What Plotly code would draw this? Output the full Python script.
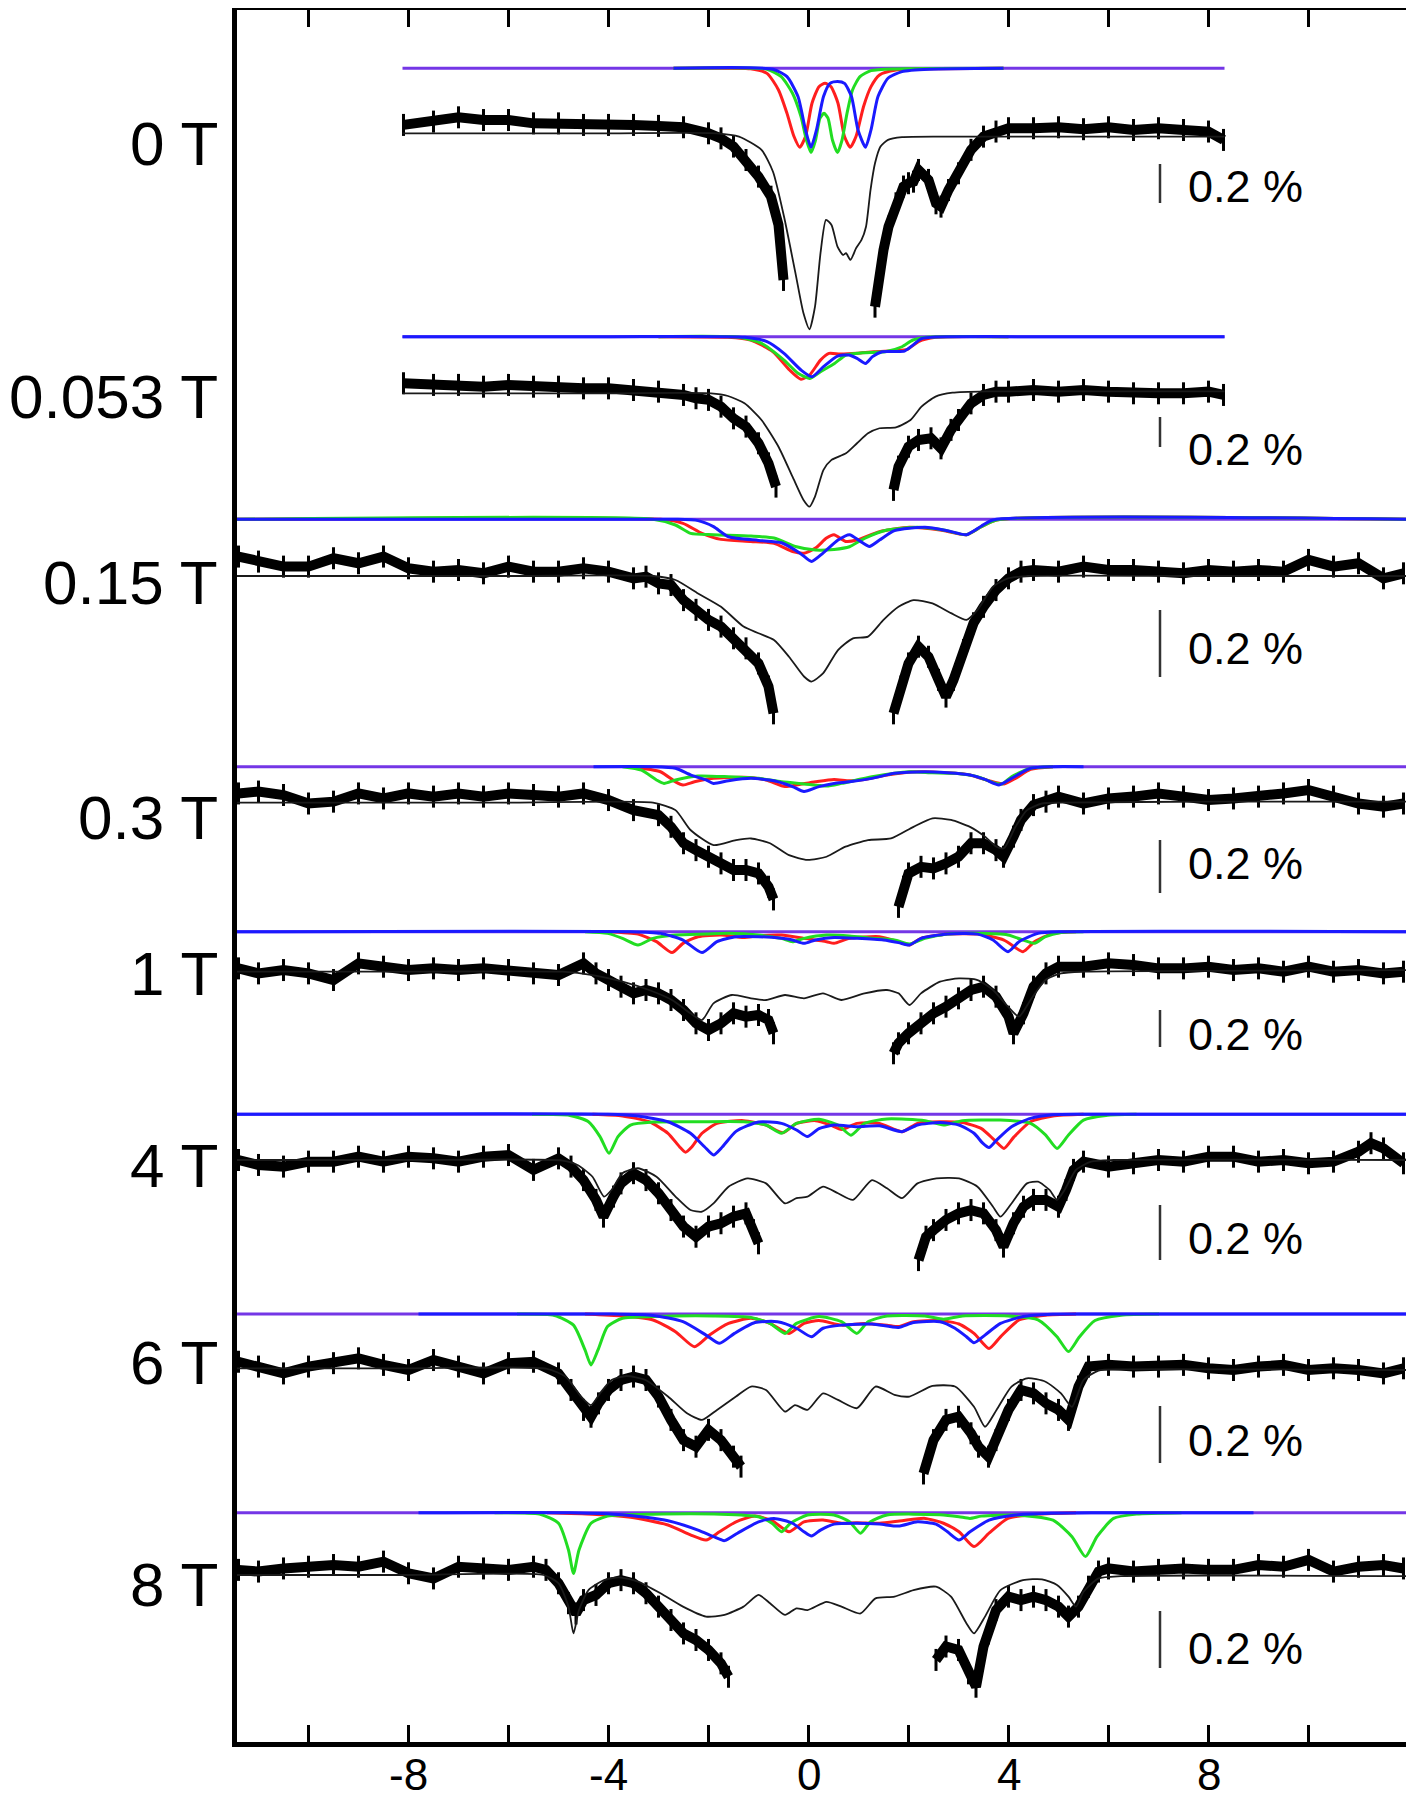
import plotly.graph_objects as go

# ---------------- axis / tick data ----------------
X_MIN, X_MAX = -11.43, 11.99
TICK_VALS = [-10, -8, -6, -4, -2, 0, 2, 4, 6, 8, 10]
LABELED_TICKS = [-8, -4, 0, 4, 8]
LABELED_TEXT = ["-8", "-4", "0", "4", "8"]
FIELD_LABELS = ["0 T", "0.053 T", "0.15 T", "0.3 T", "1 T", "4 T", "6 T", "8 T"]
SCALE_BAR_PCT = 0.2
SCALE_BAR_TEXT = "0.2 %"

# ---------------- 0 T ----------------
v_0T = [-8.1, -7.5, -7.0, -6.5, -6.0, -5.5, -5.0, -4.5, -4.0, -3.5, -3.0, -2.5, -2.0, -1.75, -1.5, -1.25, -1.0, -0.75, -0.6, -0.5,
        0.4,
        1.33, 1.4, 1.5, 1.6, 1.75, 1.9, 2.0, 2.1, 2.2, 2.4, 2.55, 2.65, 2.8, 3.0, 3.25, 3.5, 3.75, 4.0, 4.5, 5.0, 5.5, 6.0, 6.5, 7.0, 7.5, 8.0, 8.3]
d_0T = [0.043, 0.060, 0.082, 0.068, 0.068, 0.051, 0.051, 0.043, 0.043, 0.043, 0.038, 0.031, 0.0, -0.026, -0.068, -0.137, -0.222, -0.325, -0.470, -0.752,
        None,
        -0.889, -0.752, -0.598, -0.479, -0.359, -0.273, -0.256, -0.248, -0.188, -0.239, -0.359, -0.376, -0.291, -0.205, -0.085, -0.017, 0.009, 0.026, 0.026, 0.031, 0.021, 0.031, 0.017, 0.026, 0.017, 0.009, -0.034]
fit_v_0T = [-8.12, -4.0, -1.84, -1.39, -0.94, -0.71, -0.49, -0.26, -0.10, 0.02, 0.13, 0.24, 0.35, 0.46, 0.58, 0.69, 0.75, 0.84, 0.95, 1.06, 1.15, 1.24, 1.33, 1.44, 1.59, 1.87, 2.65, 5.0, 8.32]
fit_0T = [0, 0, 0, -0.017, -0.085, -0.197, -0.427, -0.718, -0.923, -1.005, -0.889, -0.615, -0.444, -0.470, -0.581, -0.624, -0.615, -0.649, -0.590, -0.547, -0.479, -0.291, -0.154, -0.068, -0.034, -0.020, -0.017, -0.017, -0.017]
red_v_0T = [-2.7, -1.16, -0.83, -0.60, -0.43, -0.29, -0.175, -0.06, 0.07, 0.21, 0.33, 0.45, 0.59, 0.72, 0.835, 0.95, 1.10, 1.25, 1.42, 1.75, 2.65, 3.9]
red_0T = [0, -0.003, -0.026, -0.111, -0.231, -0.350, -0.405, -0.350, -0.179, -0.094, -0.077, -0.094, -0.179, -0.350, -0.405, -0.350, -0.197, -0.094, -0.034, -0.009, -0.002, 0]
green_v_0T = [-2.7, -0.83, -0.545, -0.32, -0.15, -0.04, 0.05, 0.14, 0.23, 0.31, 0.39, 0.48, 0.58, 0.67, 0.77, 0.88, 1.03, 1.25, 1.75, 3.9]
green_0T = [0, -0.005, -0.043, -0.128, -0.248, -0.369, -0.432, -0.369, -0.256, -0.231, -0.256, -0.369, -0.432, -0.369, -0.231, -0.111, -0.043, -0.012, -0.003, 0]
blue_v_0T = [-2.7, -0.71, -0.43, -0.21, -0.06, 0.05, 0.16, 0.30, 0.43, 0.58, 0.72, 0.86, 0.99, 1.14, 1.25, 1.39, 1.59, 1.87, 2.43, 3.9]
blue_0T = [0, -0.005, -0.043, -0.145, -0.316, -0.405, -0.316, -0.145, -0.077, -0.068, -0.077, -0.145, -0.316, -0.405, -0.316, -0.145, -0.051, -0.017, -0.005, 0]

# ---------------- 0.053 T ----------------
v_053T = [-8.1, -7.5, -7.0, -6.5, -6.0, -5.5, -5.0, -4.5, -4.0, -3.5, -3.0, -2.5, -2.25, -2.0, -1.75, -1.5, -1.25, -1.0, -0.8, -0.65,
          0.5,
          1.7, 1.8, 2.0, 2.2, 2.45, 2.65, 2.85, 3.0, 3.25, 3.5, 3.75, 4.0, 4.5, 5.0, 5.5, 6.0, 6.5, 7.0, 7.5, 8.0, 8.3]
d_053T = [0.067, 0.056, 0.056, 0.044, 0.056, 0.044, 0.044, 0.033, 0.033, 0.022, 0.011, -0.011, -0.033, -0.044, -0.089, -0.167, -0.222, -0.333, -0.467, -0.622,
          None,
          -0.644, -0.489, -0.356, -0.311, -0.300, -0.367, -0.244, -0.178, -0.067, -0.011, 0.011, 0.011, 0.022, 0.011, 0.022, 0.011, 0.0, 0.0, 0.0, 0.011, -0.011]
fit_v_053T = [-8.12, -4.0, -1.95, -1.61, -1.28, -0.94, -0.60, -0.32, -0.10, 0.02, 0.13, 0.30, 0.46, 0.75, 0.97, 1.19, 1.42, 1.75, 2.04, 2.26, 2.54, 2.88, 3.55, 6.0, 8.32]
fit_053T = [0, 0, 0, -0.018, -0.067, -0.178, -0.356, -0.556, -0.711, -0.756, -0.689, -0.511, -0.444, -0.400, -0.333, -0.267, -0.233, -0.227, -0.178, -0.089, -0.022, 0.004, 0.013, 0.013, 0.013]
red_v_053T = [-3.0, -1.61, -1.16, -0.71, -0.38, -0.15, 0.02, 0.24, 0.41, 0.63, 0.97, 1.31, 1.75, 1.98, 2.20, 2.54, 4.0]
red_053T = [0, -0.004, -0.022, -0.100, -0.222, -0.284, -0.256, -0.156, -0.111, -0.116, -0.111, -0.100, -0.093, -0.084, -0.033, -0.004, 0]
green_v_053T = [-3.0, -1.39, -0.94, -0.49, -0.21, 0.02, 0.24, 0.52, 0.75, 1.08, 1.53, 1.87, 2.09, 2.43, 4.0]
green_053T = [0, -0.004, -0.044, -0.156, -0.244, -0.278, -0.233, -0.178, -0.122, -0.107, -0.100, -0.067, -0.022, -0.002, 0]
blue_v_053T = [-8.12, -4.0, -1.27, -0.83, -0.49, -0.15, 0.07, 0.30, 0.58, 0.80, 0.97, 1.14, 1.28, 1.47, 1.92, 2.09, 2.26, 2.54, 5.0, 8.32]
blue_053T = [0, 0, -0.004, -0.033, -0.111, -0.222, -0.267, -0.200, -0.129, -0.122, -0.144, -0.178, -0.133, -0.100, -0.096, -0.056, -0.013, -0.002, 0, 0]

# ---------------- 0.15 T ----------------
v_015T = [-11.4, -11.0, -10.5, -10.0, -9.5, -9.0, -8.5, -8.0, -7.5, -7.0, -6.5, -6.0, -5.5, -5.0, -4.5, -4.0, -3.5, -3.25, -3.0, -2.75, -2.5, -2.25, -2.0, -1.75, -1.5, -1.25, -1.0, -0.8, -0.7,
          0.5,
          1.7, 1.85, 2.0, 2.2, 2.4, 2.6, 2.75, 2.9, 3.1, 3.3, 3.5, 3.75, 4.0, 4.25, 4.5, 5.0, 5.5, 6.0, 6.5, 7.0, 7.5, 8.0, 8.5, 9.0, 9.5, 10.0, 10.5, 11.0, 11.5, 11.9]
d_015T = [0.058, 0.043, 0.028, 0.028, 0.053, 0.038, 0.058, 0.023, 0.013, 0.018, 0.008, 0.028, 0.013, 0.013, 0.023, 0.013, -0.007, -0.002, -0.022, -0.027, -0.072, -0.101, -0.131, -0.151, -0.186, -0.216, -0.261, -0.330, -0.410,
          None,
          -0.410, -0.330, -0.261, -0.211, -0.241, -0.310, -0.360, -0.310, -0.221, -0.141, -0.092, -0.042, -0.007, 0.013, 0.018, 0.013, 0.028, 0.018, 0.018, 0.013, 0.008, 0.018, 0.013, 0.018, 0.013, 0.048, 0.028, 0.038, -0.007, 0.008]
fit_v_015T = [-11.43, -6.0, -3.11, -2.66, -2.21, -1.75, -1.30, -1.0, -0.69, -0.39, -0.09, 0.06, 0.29, 0.59, 0.89, 1.19, 1.50, 1.80, 2.10, 2.48, 2.85, 3.16, 3.38, 3.69, 3.99, 4.44, 8.0, 11.99]
fit_015T = [0, 0, 0, -0.012, -0.052, -0.092, -0.151, -0.171, -0.191, -0.241, -0.300, -0.315, -0.291, -0.221, -0.186, -0.181, -0.131, -0.092, -0.072, -0.082, -0.111, -0.131, -0.101, -0.032, -0.007, 0, 0, 0]
red_v_015T = [-11.43, -2.96, -2.51, -2.13, -1.75, -1.15, -0.69, -0.32, -0.09, 0.14, 0.36, 0.51, 0.74, 0.97, 1.42, 2.02, 2.63, 3.16, 3.46, 3.76, 11.99]
red_015T = [0, 0, -0.012, -0.042, -0.060, -0.066, -0.072, -0.096, -0.101, -0.086, -0.056, -0.046, -0.066, -0.062, -0.037, -0.024, -0.032, -0.046, -0.022, -0.002, 0]
green_v_015T = [-11.43, -3.11, -2.66, -2.36, -1.90, -1.15, -0.69, -0.24, 0.14, 0.51, 0.82, 1.12, 1.57, 2.18, 2.70, 3.16, 3.46, 3.76, 11.99]
green_015T = [0, 0, -0.017, -0.042, -0.046, -0.050, -0.056, -0.082, -0.092, -0.090, -0.082, -0.057, -0.032, -0.024, -0.032, -0.046, -0.022, -0.002, 0]
blue_v_015T = [-11.43, -2.66, -2.21, -1.90, -1.60, -1.0, -0.54, -0.17, 0.06, 0.29, 0.59, 0.82, 1.04, 1.22, 1.42, 1.72, 2.33, 2.78, 3.16, 3.46, 3.69, 11.99]
blue_015T = [0, 0, -0.004, -0.022, -0.052, -0.063, -0.070, -0.101, -0.126, -0.101, -0.062, -0.046, -0.066, -0.081, -0.062, -0.034, -0.024, -0.034, -0.046, -0.020, -0.002, 0]

# ---------------- 0.3 T ----------------
v_03T = [-11.4, -11.0, -10.5, -10.0, -9.5, -9.0, -8.5, -8.0, -7.5, -7.0, -6.5, -6.0, -5.5, -5.0, -4.5, -4.0, -3.5, -3.0, -2.75, -2.5, -2.25, -2.0, -1.75, -1.5, -1.25, -1.0, -0.8, -0.7,
         0.5,
         1.8, 1.9, 2.0, 2.25, 2.5, 2.75, 3.0, 3.25, 3.5, 3.75, 3.9, 4.1, 4.25, 4.5, 4.75, 5.0, 5.5, 6.0, 6.5, 7.0, 7.5, 8.0, 8.5, 9.0, 9.5, 10.0, 10.5, 11.0, 11.5, 11.9]
d_03T = [0.035, 0.042, 0.029, -0.003, 0.004, 0.035, 0.016, 0.035, 0.023, 0.035, 0.023, 0.035, 0.029, 0.023, 0.035, 0.010, -0.028, -0.047, -0.091, -0.153, -0.179, -0.204, -0.229, -0.254, -0.254, -0.267, -0.317, -0.365,
         None,
         -0.393, -0.317, -0.267, -0.242, -0.248, -0.229, -0.204, -0.153, -0.153, -0.179, -0.204, -0.128, -0.065, -0.009, 0.004, 0.023, -0.003, 0.016, 0.023, 0.035, 0.023, 0.010, 0.016, 0.023, 0.035, 0.048, 0.023, -0.003, -0.015, -0.003]
fit_v_03T = [-11.43, -6.0, -3.11, -2.66, -2.36, -1.90, -1.45, -1.15, -0.77, -0.39, -0.02, 0.36, 0.74, 1.19, 1.65, 2.10, 2.48, 2.85, 3.23, 3.53, 3.76, 3.91, 4.14, 4.37, 4.67, 5.05, 8.0, 11.99]
fit_03T = [0, 0, 0, -0.028, -0.103, -0.160, -0.141, -0.135, -0.153, -0.198, -0.216, -0.204, -0.166, -0.141, -0.135, -0.091, -0.059, -0.065, -0.091, -0.128, -0.166, -0.172, -0.091, -0.028, -0.003, 0, 0.004, 0.004]
red_v_03T = [-3.56, -2.96, -2.66, -2.51, -2.28, -1.90, -1.30, -0.85, -0.47, -0.24, 0.14, 0.51, 0.82, 1.12, 1.57, 2.18, 2.78, 3.23, 3.61, 3.91, 4.14, 4.44, 4.89]
red_03T = [0, -0.019, -0.057, -0.069, -0.057, -0.044, -0.040, -0.050, -0.075, -0.069, -0.057, -0.048, -0.053, -0.048, -0.031, -0.019, -0.023, -0.031, -0.053, -0.065, -0.044, -0.010, 0]
green_v_03T = [-3.72, -3.34, -3.04, -2.89, -2.66, -2.21, -1.60, -1.0, -0.54, -0.09, 0.36, 0.66, 1.27, 2.02, 2.48, 2.93, 3.38, 3.69, 3.87, 4.06, 4.44, 4.89]
green_03T = [0, -0.013, -0.050, -0.063, -0.050, -0.035, -0.038, -0.044, -0.057, -0.065, -0.073, -0.063, -0.038, -0.019, -0.023, -0.025, -0.038, -0.060, -0.065, -0.038, -0.006, 0]
blue_v_03T = [-4.3, -3.11, -2.66, -2.36, -2.05, -1.90, -1.60, -1.15, -0.69, -0.32, -0.09, 0.21, 0.51, 0.82, 1.27, 1.72, 2.33, 2.78, 3.23, 3.53, 3.81, 4.06, 4.44, 4.89, 5.5]
blue_03T = [0, 0, -0.006, -0.031, -0.050, -0.063, -0.053, -0.044, -0.053, -0.075, -0.094, -0.075, -0.063, -0.057, -0.044, -0.025, -0.019, -0.023, -0.031, -0.048, -0.069, -0.044, -0.006, 0, 0]

# ---------------- 1 T ----------------
v_1T = [-11.4, -11.0, -10.5, -10.0, -9.5, -9.0, -8.5, -8.0, -7.5, -7.0, -6.5, -6.0, -5.5, -5.0, -4.5, -4.25, -4.0, -3.75, -3.5, -3.25, -3.0, -2.75, -2.5, -2.25, -2.0, -1.75, -1.5, -1.25, -1.0, -0.8, -0.7,
        0.5,
        1.7, 1.8, 2.0, 2.25, 2.5, 2.75, 3.0, 3.25, 3.5, 3.75, 4.0, 4.1, 4.3, 4.5, 4.75, 5.0, 5.5, 6.0, 6.5, 7.0, 7.5, 8.0, 8.5, 9.0, 9.5, 10.0, 10.5, 11.0, 11.5, 11.9]
d_1T = [0.018, -0.009, 0.009, -0.009, -0.045, 0.045, 0.027, 0.009, 0.018, 0.009, 0.018, 0.009, -0.009, -0.018, 0.045, -0.009, -0.045, -0.081, -0.117, -0.099, -0.117, -0.153, -0.207, -0.279, -0.315, -0.279, -0.225, -0.243, -0.234, -0.261, -0.333,
        None,
        -0.441, -0.387, -0.333, -0.279, -0.225, -0.189, -0.144, -0.099, -0.081, -0.135, -0.243, -0.333, -0.225, -0.081, -0.009, 0.027, 0.027, 0.045, 0.036, 0.018, 0.018, 0.027, 0.009, 0.018, 0.0, 0.027, 0.0, 0.009, -0.009, 0.0]
fit_v_1T = [-11.43, -8.0, -4.92, -4.32, -3.72, -3.19, -2.73, -2.36, -2.13, -1.90, -1.53, -1.15, -0.85, -0.47, -0.09, 0.29, 0.66, 1.12, 1.57, 1.80, 2.02, 2.25, 2.63, 3.01, 3.38, 3.69, 3.99, 4.21, 4.44, 4.74, 5.05, 5.50, 8.0, 11.99]
fit_1T = [0, 0, 0, -0.018, -0.054, -0.099, -0.153, -0.225, -0.261, -0.171, -0.126, -0.144, -0.153, -0.126, -0.144, -0.117, -0.153, -0.117, -0.099, -0.117, -0.180, -0.117, -0.054, -0.036, -0.045, -0.099, -0.189, -0.243, -0.153, -0.045, -0.009, 0, 0.005, 0.009]
red_v_1T = [-4.02, -3.41, -3.04, -2.73, -2.51, -2.21, -1.75, -1.30, -1.0, -0.54, -0.09, 0.36, 0.51, 0.82, 1.42, 1.80, 2.02, 2.25, 2.78, 3.38, 3.91, 4.29, 4.52, 4.89, 5.35]
red_1T = [0, -0.013, -0.054, -0.113, -0.063, -0.027, -0.018, -0.031, -0.022, -0.018, -0.036, -0.054, -0.063, -0.036, -0.027, -0.054, -0.072, -0.036, -0.013, -0.013, -0.045, -0.108, -0.054, -0.009, 0]
green_v_1T = [-4.47, -4.02, -3.72, -3.41, -3.11, -2.66, -2.05, -1.60, -1.0, -0.54, -0.32, -0.09, 0.36, 0.82, 1.27, 1.72, 2.02, 2.33, 2.78, 3.38, 3.99, 4.29, 4.52, 4.74, 5.05, 5.50]
green_1T = [0, -0.009, -0.036, -0.072, -0.036, -0.018, -0.013, -0.009, -0.018, -0.036, -0.054, -0.036, -0.018, -0.023, -0.036, -0.045, -0.067, -0.036, -0.013, -0.009, -0.018, -0.045, -0.063, -0.027, -0.004, 0]
blue_v_1T = [-11.43, -3.56, -2.96, -2.51, -2.13, -1.83, -1.45, -1.0, -0.54, -0.32, -0.09, 0.14, 0.51, 0.97, 1.50, 1.80, 2.02, 2.25, 2.78, 3.38, 3.69, 3.99, 4.21, 4.59, 5.05, 11.99]
blue_1T = [0, 0, -0.009, -0.045, -0.113, -0.054, -0.027, -0.027, -0.036, -0.045, -0.063, -0.045, -0.031, -0.036, -0.045, -0.059, -0.072, -0.036, -0.013, -0.013, -0.045, -0.108, -0.054, -0.009, 0, 0]

# ---------------- 4 T ----------------
v_4T = [-11.4, -11.0, -10.5, -10.0, -9.5, -9.0, -8.5, -8.0, -7.5, -7.0, -6.5, -6.0, -5.5, -5.0, -4.75, -4.5, -4.25, -4.1, -3.9, -3.75, -3.5, -3.25, -3.0, -2.75, -2.5, -2.25, -2.0, -1.75, -1.5, -1.25, -1.1, -1.0,
        0.5,
        2.2, 2.35, 2.5, 2.75, 3.0, 3.25, 3.5, 3.75, 3.9, 4.1, 4.3, 4.5, 4.75, 5.0, 5.15, 5.3, 5.5, 6.0, 6.5, 7.0, 7.5, 8.0, 8.5, 9.0, 9.5, 10.0, 10.5, 11.0, 11.25, 11.5, 11.9]
d_4T = [0, -0.018, -0.024, -0.006, -0.006, 0.012, -0.006, 0.012, 0.006, -0.006, 0.012, 0.018, -0.036, 0.006, -0.024, -0.073, -0.145, -0.206, -0.133, -0.085, -0.048, -0.073, -0.121, -0.182, -0.242, -0.279, -0.242, -0.230, -0.206, -0.194, -0.255, -0.303,
        None,
        -0.364, -0.279, -0.255, -0.218, -0.194, -0.182, -0.194, -0.255, -0.315, -0.230, -0.170, -0.145, -0.145, -0.170, -0.109, -0.036, -0.006, -0.024, -0.012, 0, -0.006, 0.012, 0.012, -0.006, 0, -0.012, -0.006, 0.030, 0.061, 0.042, -0.012]
fit_v_4T = [-11.43, -8.0, -4.92, -4.62, -4.32, -4.09, -3.94, -3.72, -3.41, -3.04, -2.66, -2.36, -2.13, -1.90, -1.60, -1.22, -0.85, -0.47, -0.24, -0.02, 0.29, 0.59, 0.89, 1.27, 1.57, 1.87, 2.18, 2.56, 3.01, 3.38, 3.69, 3.84, 4.06, 4.37, 4.59, 4.82, 4.97, 5.12, 5.35, 5.65, 6.10, 11.99]
fit_4T = [0, 0, -0.002, -0.018, -0.061, -0.133, -0.109, -0.048, -0.030, -0.061, -0.133, -0.182, -0.188, -0.158, -0.097, -0.067, -0.085, -0.158, -0.139, -0.133, -0.097, -0.121, -0.145, -0.073, -0.103, -0.139, -0.085, -0.067, -0.067, -0.097, -0.170, -0.206, -0.158, -0.085, -0.079, -0.109, -0.145, -0.109, -0.036, -0.006, 0, 0]
red_v_4T = [-4.32, -3.72, -3.19, -2.81, -2.58, -2.46, -2.33, -2.13, -1.83, -1.30, -0.85, -0.51, -0.24, 0.14, 0.44, 0.66, 0.97, 1.42, 1.87, 2.18, 2.63, 3.08, 3.46, 3.72, 3.91, 4.11, 4.44, 4.89, 5.50]
red_4T = [0, -0.006, -0.027, -0.069, -0.118, -0.138, -0.118, -0.069, -0.033, -0.023, -0.039, -0.067, -0.033, -0.023, -0.039, -0.055, -0.033, -0.033, -0.063, -0.033, -0.027, -0.030, -0.052, -0.094, -0.124, -0.082, -0.027, -0.006, 0]
green_v_4T = [-5.53, -4.77, -4.40, -4.17, -3.99, -3.81, -3.56, -3.11, -2.21, -1.30, -0.85, -0.54, -0.24, 0.21, 0.59, 0.85, 1.12, 1.57, 2.33, 2.70, 3.08, 3.84, 4.44, 4.74, 4.97, 5.20, 5.50, 5.95, 6.56]
green_4T = [0, -0.004, -0.027, -0.081, -0.142, -0.081, -0.039, -0.028, -0.027, -0.027, -0.039, -0.069, -0.033, -0.018, -0.039, -0.076, -0.033, -0.017, -0.023, -0.039, -0.023, -0.021, -0.033, -0.075, -0.124, -0.075, -0.021, -0.004, 0]
blue_v_4T = [-11.43, -4.02, -3.41, -2.81, -2.36, -2.08, -1.90, -1.72, -1.45, -1.0, -0.54, -0.24, -0.02, 0.21, 0.51, 0.97, 1.42, 1.87, 2.18, 2.63, 3.01, 3.31, 3.49, 3.61, 3.76, 4.06, 4.44, 4.89, 5.50, 11.99]
blue_4T = [0, 0, -0.006, -0.027, -0.069, -0.118, -0.148, -0.118, -0.062, -0.028, -0.033, -0.057, -0.081, -0.052, -0.039, -0.045, -0.042, -0.063, -0.039, -0.030, -0.039, -0.069, -0.106, -0.121, -0.094, -0.045, -0.015, -0.002, 0, 0]

# ---------------- 6 T ----------------
v_6T = [-11.4, -11.0, -10.5, -10.0, -9.5, -9.0, -8.5, -8.0, -7.5, -7.0, -6.5, -6.0, -5.5, -5.0, -4.75, -4.5, -4.35, -4.2, -4.0, -3.75, -3.5, -3.25, -3.0, -2.75, -2.5, -2.25, -2.0, -1.75, -1.5, -1.35,
        0.5,
        2.3, 2.5, 2.75, 3.0, 3.25, 3.4, 3.6, 3.75, 4.0, 4.25, 4.5, 4.75, 5.0, 5.2, 5.4, 5.6, 6.0, 6.5, 7.0, 7.5, 8.0, 8.5, 9.0, 9.5, 10.0, 10.5, 11.0, 11.5, 11.9]
d_6T = [0.023, 0.006, -0.018, 0.006, 0.018, 0.035, 0.012, -0.006, 0.029, 0.006, -0.018, 0.018, 0.023, -0.018, -0.076, -0.146, -0.170, -0.123, -0.076, -0.041, -0.029, -0.041, -0.099, -0.181, -0.252, -0.275, -0.216, -0.252, -0.310, -0.345,
        None,
        -0.369, -0.252, -0.181, -0.170, -0.228, -0.275, -0.310, -0.252, -0.146, -0.076, -0.088, -0.123, -0.146, -0.181, -0.064, 0.006, 0.012, 0.006, 0.006, 0.012, 0, -0.006, 0.006, 0.012, -0.006, 0, -0.006, -0.018, 0]
fit_v_6T = [-11.43, -8.0, -5.23, -4.86, -4.55, -4.35, -4.17, -3.94, -3.64, -3.26, -2.81, -2.43, -2.13, -1.83, -1.45, -1.15, -0.85, -0.47, -0.27, -0.02, 0.29, 0.59, 0.97, 1.34, 1.72, 2.02, 2.48, 2.93, 3.31, 3.53, 3.76, 4.06, 4.37, 4.74, 5.05, 5.27, 5.50, 5.80, 6.25, 11.99]
fit_6T = [0, 0, -0.002, -0.029, -0.099, -0.129, -0.088, -0.041, -0.027, -0.041, -0.099, -0.158, -0.181, -0.146, -0.099, -0.064, -0.076, -0.152, -0.129, -0.146, -0.088, -0.111, -0.140, -0.064, -0.093, -0.099, -0.062, -0.064, -0.135, -0.205, -0.146, -0.064, -0.035, -0.047, -0.088, -0.135, -0.041, -0.008, -0.004, -0.006]
red_v_6T = [-4.47, -3.72, -3.11, -2.66, -2.28, -1.98, -1.60, -1.15, -0.77, -0.39, -0.09, 0.21, 0.66, 1.12, 1.57, 1.80, 2.10, 2.63, 3.01, 3.31, 3.61, 3.84, 4.21, 4.74, 5.35]
red_6T = [0, -0.007, -0.021, -0.062, -0.115, -0.074, -0.033, -0.015, -0.033, -0.068, -0.033, -0.023, -0.039, -0.033, -0.039, -0.044, -0.027, -0.023, -0.035, -0.068, -0.121, -0.080, -0.021, -0.004, 0]
green_v_6T = [-5.83, -5.08, -4.70, -4.47, -4.35, -4.21, -4.02, -3.72, -3.11, -1.90, -1.15, -0.77, -0.47, -0.24, 0.21, 0.66, 0.97, 1.19, 1.57, 2.33, 2.70, 3.08, 3.99, 4.59, 4.97, 5.20, 5.42, 5.73, 6.25, 7.01]
green_6T = [0, -0.005, -0.039, -0.126, -0.179, -0.126, -0.044, -0.015, -0.009, -0.007, -0.012, -0.033, -0.068, -0.033, -0.009, -0.027, -0.068, -0.027, -0.007, -0.007, -0.018, -0.007, -0.007, -0.021, -0.080, -0.132, -0.080, -0.023, -0.004, 0]
blue_v_6T = [-7.8, -4.02, -3.11, -2.51, -2.05, -1.78, -1.48, -1.07, -0.62, -0.24, 0.06, 0.29, 0.66, 1.27, 1.80, 2.10, 2.63, 2.93, 3.16, 3.31, 3.53, 3.84, 4.29, 4.89, 5.50, 11.99]
blue_6T = [0, 0, -0.005, -0.027, -0.074, -0.103, -0.068, -0.030, -0.027, -0.050, -0.080, -0.050, -0.039, -0.035, -0.047, -0.030, -0.027, -0.050, -0.080, -0.101, -0.074, -0.033, -0.009, -0.001, 0, 0]

# ---------------- 8 T ----------------
v_8T = [-11.4, -11.0, -10.5, -10.0, -9.5, -9.0, -8.5, -8.0, -7.5, -7.0, -6.5, -6.0, -5.5, -5.25, -5.0, -4.8, -4.65, -4.5, -4.25, -4.0, -3.75, -3.5, -3.25, -3.0, -2.75, -2.5, -2.25, -2.0, -1.75, -1.6,
        0.5,
        2.55, 2.75, 3.0, 3.2, 3.35, 3.5, 3.6, 3.75, 4.0, 4.25, 4.5, 4.75, 5.0, 5.2, 5.4, 5.6, 5.8, 6.0, 6.5, 7.0, 7.5, 8.0, 8.5, 9.0, 9.5, 10.0, 10.5, 11.0, 11.5, 11.9]
d_8T = [0.018, 0.012, 0.023, 0.029, 0.035, 0.029, 0.047, 0.006, -0.012, 0.029, 0.023, 0.018, 0.029, 0.018, -0.029, -0.099, -0.135, -0.088, -0.070, -0.029, -0.018, -0.029, -0.064, -0.111, -0.158, -0.205, -0.228, -0.263, -0.310, -0.357,
        None,
        -0.298, -0.251, -0.263, -0.345, -0.392, -0.251, -0.205, -0.123, -0.076, -0.088, -0.076, -0.088, -0.111, -0.146, -0.111, -0.041, 0.012, 0.023, 0.012, 0.018, 0.023, 0.018, 0.018, 0.035, 0.029, 0.053, 0.012, 0.029, 0.035, 0.023]
fit_v_8T = [-11.43, -8.0, -5.30, -5.0, -4.80, -4.70, -4.59, -4.40, -4.09, -3.79, -3.41, -2.96, -2.51, -2.05, -1.68, -1.30, -1.0, -0.77, -0.47, -0.24, -0.02, 0.36, 0.66, 1.04, 1.34, 1.72, 2.10, 2.55, 2.85, 3.16, 3.31, 3.53, 3.84, 4.29, 4.67, 4.97, 5.20, 5.35, 5.50, 5.80, 6.25, 11.99]
fit_8T = [0, 0, 0, -0.029, -0.111, -0.205, -0.123, -0.053, -0.018, -0.008, -0.023, -0.064, -0.111, -0.146, -0.140, -0.111, -0.070, -0.099, -0.140, -0.117, -0.123, -0.094, -0.111, -0.135, -0.082, -0.076, -0.053, -0.041, -0.076, -0.170, -0.205, -0.146, -0.053, -0.018, -0.015, -0.035, -0.076, -0.111, -0.059, -0.012, -0.004, -0.004]
red_v_8T = [-5.23, -4.32, -3.56, -2.81, -2.36, -2.05, -1.78, -1.45, -1.07, -0.73, -0.39, -0.09, 0.29, 0.66, 0.97, 1.42, 1.87, 2.33, 2.70, 3.01, 3.31, 3.61, 3.99, 4.59, 5.35]
red_8T = [0, -0.005, -0.016, -0.043, -0.078, -0.096, -0.067, -0.032, -0.012, -0.028, -0.067, -0.032, -0.026, -0.037, -0.035, -0.037, -0.028, -0.020, -0.037, -0.067, -0.119, -0.072, -0.020, -0.005, 0]
green_v_8T = [-6.28, -5.38, -5.0, -4.80, -4.70, -4.59, -4.35, -4.02, -3.11, -1.75, -1.0, -0.73, -0.54, -0.36, -0.02, 0.51, 0.82, 1.04, 1.24, 1.57, 2.63, 3.01, 3.23, 3.46, 4.14, 4.89, 5.27, 5.54, 5.77, 6.10, 6.56, 7.46]
green_8T = [0, -0.005, -0.037, -0.131, -0.213, -0.131, -0.037, -0.012, -0.005, -0.005, -0.014, -0.037, -0.067, -0.037, -0.008, -0.008, -0.032, -0.072, -0.032, -0.008, -0.007, -0.014, -0.020, -0.012, -0.008, -0.026, -0.084, -0.154, -0.084, -0.020, -0.005, 0]
blue_v_8T = [-7.8, -4.77, -3.72, -2.81, -2.21, -1.90, -1.68, -1.42, -1.0, -0.69, -0.32, -0.09, 0.06, 0.24, 0.51, 0.97, 1.42, 1.80, 2.18, 2.55, 2.78, 3.01, 3.23, 3.61, 4.14, 4.89, 5.65, 8.9]
blue_8T = [0, 0, -0.007, -0.028, -0.061, -0.084, -0.098, -0.072, -0.032, -0.020, -0.037, -0.067, -0.082, -0.061, -0.040, -0.037, -0.040, -0.047, -0.032, -0.040, -0.067, -0.096, -0.067, -0.026, -0.008, -0.002, 0, 0]

SPECTRA = [
    (v_0T, d_0T, fit_v_0T, fit_0T, red_v_0T, red_0T, green_v_0T, green_0T, blue_v_0T, blue_0T),
    (v_053T, d_053T, fit_v_053T, fit_053T, red_v_053T, red_053T, green_v_053T, green_053T, blue_v_053T, blue_053T),
    (v_015T, d_015T, fit_v_015T, fit_015T, red_v_015T, red_015T, green_v_015T, green_015T, blue_v_015T, blue_015T),
    (v_03T, d_03T, fit_v_03T, fit_03T, red_v_03T, red_03T, green_v_03T, green_03T, blue_v_03T, blue_03T),
    (v_1T, d_1T, fit_v_1T, fit_1T, red_v_1T, red_1T, green_v_1T, green_1T, blue_v_1T, blue_1T),
    (v_4T, d_4T, fit_v_4T, fit_4T, red_v_4T, red_4T, green_v_4T, green_4T, blue_v_4T, blue_4T),
    (v_6T, d_6T, fit_v_6T, fit_6T, red_v_6T, red_6T, green_v_6T, green_6T, blue_v_6T, blue_6T),
    (v_8T, d_8T, fit_v_8T, fit_8T, red_v_8T, red_8T, green_v_8T, green_8T, blue_v_8T, blue_8T),
]

# ---------------- layout constants (page pixels, y measured from the top) ----------------
PAGE_OFFSET = 8                      # default <body> margin of the written html page
W, H = 1414 - PAGE_OFFSET, 1800 - PAGE_OFFSET
PLOT_LEFT, PLOT_RIGHT, PLOT_TOP, PLOT_BOTTOM = 237, 1408, 10, 1742   # page pixels
M_L = PLOT_LEFT - PAGE_OFFSET
M_R = (W + PAGE_OFFSET) - PLOT_RIGHT
M_T = PLOT_TOP - PAGE_OFFSET
M_B = (H + PAGE_OFFSET) - PLOT_BOTTOM
PLOT_H = PLOT_BOTTOM - PLOT_TOP
PLOT_W = PLOT_RIGHT - PLOT_LEFT

DATA_BASE = [133.3, 393.3, 576, 802.7, 971.7, 1160, 1368.3, 1575]
COMP_BASE = [68.3, 336.7, 519.3, 766.7, 931.7, 1114.3, 1314, 1512.7]
PX_PER_BAR = [39, 30, 67, 53, 37, 55, 57, 57]      # length of the 0.2 % bar in px
BAR_BOTTOM = [203, 447, 677, 893, 1047, 1260, 1463, 1668]
BAR_TEXT_Y = [186, 449, 648, 863, 1034, 1238, 1440, 1648]
LABEL_Y = [143, 396, 582, 817, 973, 1165, 1362, 1584]
SPAN = [(-8.12, 8.32), (-8.12, 8.32)] + [(X_MIN, X_MAX)] * 6
BAR_X = 7.03
BAR_TEXT_X = 7.55
LABEL_RIGHT_PX = 220
TICK_LABEL_Y_PX = 1775

RED, GREEN, BLUE, PURPLE = "#FF1E1E", "#22DD22", "#1A1AFF", "#7436E6"
FONT = "Liberation Sans, Arial, Helvetica, sans-serif"


def to_px(vals, base, bar_px):
    k = bar_px / SCALE_BAR_PCT
    return [None if v is None else base - v * k for v in vals]


fig = go.Figure()
for i, spec in enumerate(SPECTRA):
    v, d, fv, f, rv, r, gv, g, bv, b = spec
    base, cbase, bar = DATA_BASE[i], COMP_BASE[i], PX_PER_BAR[i]
    lo, hi = SPAN[i]
    # flat baseline of the subspectra
    fig.add_trace(go.Scatter(x=[lo, hi], y=to_px([0, 0], cbase, bar), mode="lines",
                             line=dict(color=PURPLE, width=3), hoverinfo="skip"))
    for xs, ys, col in ((rv, r, RED), (gv, g, GREEN), (bv, b, BLUE)):
        fig.add_trace(go.Scatter(x=xs, y=to_px(ys, cbase, bar), mode="lines",
                                 line=dict(color=col, width=3, shape="spline", smoothing=0.6),
                                 hoverinfo="skip"))
    # measured spectrum
    fig.add_trace(go.Scatter(x=v, y=to_px(d, base, bar), mode="lines", connectgaps=False,
                             line=dict(color="black", width=10),
                             error_y=dict(type="constant", value=11, thickness=3, width=0, color="black"),
                             hoverinfo="skip"))
    # fit
    fig.add_trace(go.Scatter(x=fv, y=to_px(f, base, bar), mode="lines",
                             line=dict(color="#1a1a1a", width=1.8, shape="spline", smoothing=0.6),
                             hoverinfo="skip"))
    # 0.2 % scale bar
    yb = BAR_BOTTOM[i]
    fig.add_trace(go.Scatter(x=[BAR_X, BAR_X], y=[yb, yb - bar],
                             mode="lines", line=dict(color="#333333", width=2.5), hoverinfo="skip"))
    fig.add_annotation(x=BAR_TEXT_X, y=BAR_TEXT_Y[i], xref="x", yref="y", text=SCALE_BAR_TEXT,
                       showarrow=False, xanchor="left", yanchor="middle",
                       font=dict(family=FONT, size=45, color="black"))
    fig.add_annotation(x=(LABEL_RIGHT_PX - PLOT_LEFT) / PLOT_W, y=LABEL_Y[i],
                       xref="paper", yref="y", text=FIELD_LABELS[i], showarrow=False,
                       xanchor="right", yanchor="middle",
                       font=dict(family=FONT, size=62, color="black"))

# x tick labels (placed explicitly so they stay inside the page)
for tv, tt in zip(LABELED_TICKS, LABELED_TEXT):
    fig.add_annotation(x=tv, y=(PLOT_BOTTOM - TICK_LABEL_Y_PX) / PLOT_H, xref="x", yref="paper",
                       text=tt, showarrow=False, xanchor="center", yanchor="middle",
                       font=dict(family=FONT, size=44, color="black"))

fig.update_layout(
    width=W, height=H, showlegend=False,
    margin=dict(l=M_L, r=M_R, t=M_T, b=M_B, pad=0),
    paper_bgcolor="white", plot_bgcolor="white",
    font=dict(family=FONT, color="black"),
    xaxis=dict(range=[X_MIN, X_MAX], tickvals=TICK_VALS, showticklabels=False,
               ticks="inside", ticklen=17, tickwidth=3, tickcolor="black",
               showline=True, linewidth=5, linecolor="black", mirror="allticks",
               showgrid=False, zeroline=False, automargin=False),
    yaxis=dict(range=[PLOT_BOTTOM, PLOT_TOP], showticklabels=False, ticks="",
               showline=True, linewidth=5, linecolor="black", mirror=True,
               showgrid=False, zeroline=False, automargin=False),
)

fig.write_html("out.html")
